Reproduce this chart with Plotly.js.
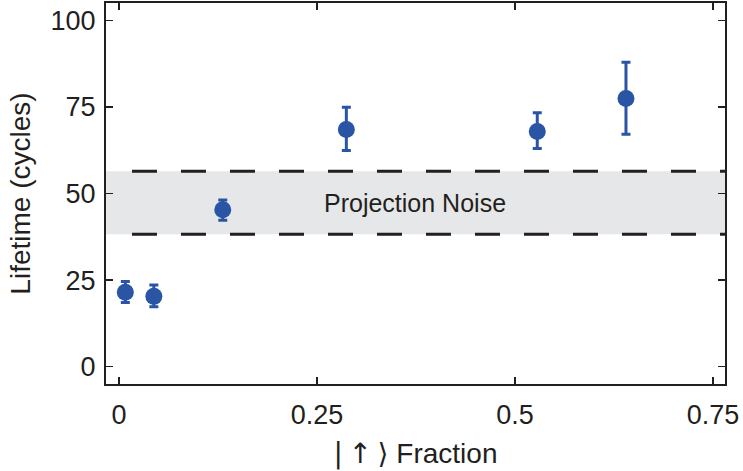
<!DOCTYPE html>
<html>
<head>
<meta charset="utf-8">
<script src="https://cdn.plot.ly/plotly-3.0.1.min.js"></script>
<style>html,body{margin:0;padding:0;background:#fff;}#chart{width:743px;height:471px;}</style>
</head>
<body>
<div id="chart"></div>
<script>
// Data
const upFraction = [0.008, 0.044, 0.131, 0.287, 0.528, 0.640];
const lifetime   = [21.5, 20.3, 45.3, 68.5, 67.9, 77.4];
const errUpper   = [24.6, 23.6, 48.1, 74.9, 73.3, 87.9];
const errLower   = [18.5, 17.3, 42.3, 62.4, 63.0, 67.1];
const noiseBand  = [38.2, 56.4];
const noiseLabel = "Projection Noise";
const xTickVals  = [0, 0.25, 0.5, 0.75];
const xTickText  = ["0", "0.25", "0.5", "0.75"];
const yTickVals  = [0, 25, 50, 75, 100];
const yTickText  = ["0", "25", "50", "75", "100"];

const ink = "#231f20";
const blue = "#2a55a5";
const font = "Liberation Sans, Arial, sans-serif";

const trace = {
  x: upFraction,
  y: lifetime,
  type: "scatter",
  mode: "markers",
  marker: {size: 17, color: blue},
  error_y: {
    type: "data",
    symmetric: false,
    array: lifetime.map((v, i) => errUpper[i] - v),
    arrayminus: lifetime.map((v, i) => v - errLower[i]),
    color: blue,
    thickness: 3,
    width: 4.5
  },
  showlegend: false,
  hoverinfo: "skip"
};

const xr = [-0.0164, 0.765];
const axisCommon = {
  showline: true, linecolor: ink, linewidth: 2, mirror: "ticks",
  ticks: "inside", ticklen: 7, tickwidth: 1.5, tickcolor: ink,
  showgrid: false, zeroline: false,
  tickfont: {family: font, size: 27, color: ink}
};

const ketTitle = "<span style='font-family:DejaVu Sans'>|\u2009\u2191\u2009\u27e9</span> Fraction";

const layout = {
  width: 743, height: 471,
  margin: {l: 106, r: 18, t: 3, b: 87},
  paper_bgcolor: "#fff", plot_bgcolor: "#fff",
  xaxis: Object.assign({}, axisCommon, {
    range: xr, tickmode: "array", tickvals: xTickVals, ticktext: xTickText,
    ticklabelstandoff: 6,
    title: {text: ketTitle, font: {family: font, size: 28, color: ink}, standoff: 14}
  }),
  yaxis: Object.assign({}, axisCommon, {
    range: [-5, 105], tickmode: "array", tickvals: yTickVals, ticktext: yTickText,
    ticklabelstandoff: 3,
    title: {text: "Lifetime (cycles)", font: {family: font, size: 28, color: ink}, standoff: 12}
  }),
  shapes: [
    {type: "rect", xref: "paper", yref: "y", x0: 0, x1: 1, y0: noiseBand[0], y1: noiseBand[1],
     fillcolor: "#e6e7e8", line: {width: 0}, layer: "below"},
    {type: "line", xref: "x", yref: "y", x0: 0.0164, x1: xr[1], y0: noiseBand[1], y1: noiseBand[1],
     line: {color: ink, width: 3, dash: "25px,24px"}, layer: "below"},
    {type: "line", xref: "x", yref: "y", x0: 0.0164, x1: xr[1], y0: noiseBand[0], y1: noiseBand[0],
     line: {color: ink, width: 3, dash: "25px,24px"}, layer: "below"}
  ],
  annotations: [
    {xref: "paper", yref: "y", x: 0.4985, y: (noiseBand[0] + noiseBand[1]) / 2, text: noiseLabel,
     showarrow: false, font: {family: font, size: 25, color: ink}}
  ]
};

Plotly.newPlot("chart", [trace], layout, {staticPlot: true, displayModeBar: false});
</script>
</body>
</html>
